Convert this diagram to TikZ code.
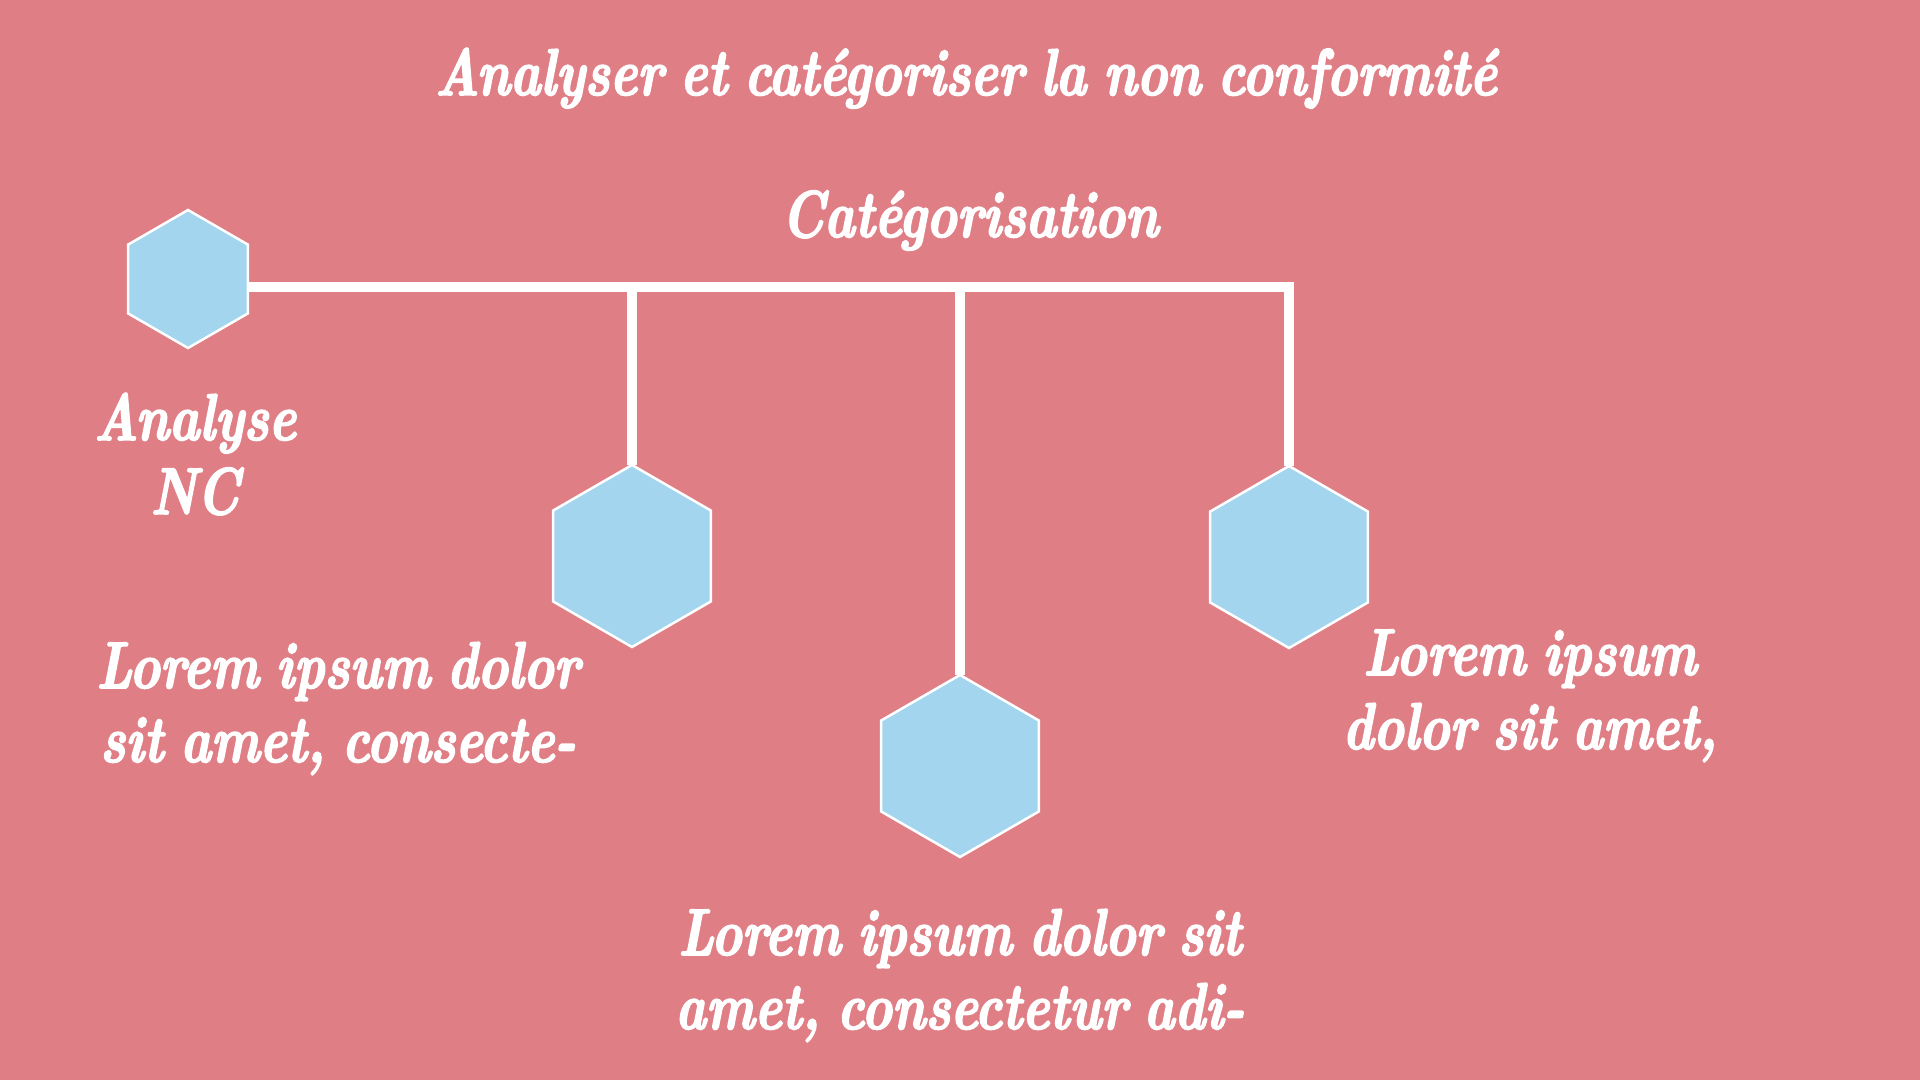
\documentclass[tikz,border=0pt]{standalone}
\usepackage{fontspec}
\usetikzlibrary{shapes.geometric}
\newfontfamily\scrfont{lmroman10-bolditalic.otf}[FakeStretch=0.78,WordSpace=0.8,FakeBold=2.5]
\definecolor{bgpink}{HTML}{E07E86}
\definecolor{hexblue}{HTML}{A3D5EF}
\tikzset{
  hexnode/.style={regular polygon, regular polygon sides=6, shape border rotate=30,
    draw=white, line width=2.5pt, fill=hexblue, inner sep=0pt, outer sep=0pt, minimum size=#1},
  link/.style={draw=white, line width=9.5pt},
  lbl/.style={text=white, align=center, anchor=base, inner sep=0pt,
    font=\scrfont\fontsize{66}{74}\selectfont},
}
\begin{document}
\begin{tikzpicture}[x=1pt,y=-1pt]
\fill[bgpink] (0,0) rectangle (1920,1080);
\useasboundingbox (0,0) rectangle (1920,1080);

\node[hexnode=138pt] (h1) at (188,279) {};
\node[hexnode=182pt] (h2) at (632,556) {};
\node[hexnode=182pt] (h3) at (960,766) {};
\node[hexnode=182pt] (h4) at (1289,557) {};

\coordinate (j1) at (632,287);
\coordinate (j2) at (960,287);
\coordinate (j3) at (1289,287);

\draw[link] ([yshift=-8pt]h1.east) -- (j3) -- (h4.north);
\draw[link] (j1) -- (h2.north);
\draw[link] (j2) -- (h3.north);

\node[lbl] (title) at (966,95) {Analyser et catégoriser la non conformité};
\node[lbl] (cat) at (970,237) {Catégorisation};
\node[lbl] (t1) at (195,514) {Analyse\\NC};
\node[lbl] (t2) at (338,762) {Lorem ipsum dolor\\sit amet, consecte-};
\node[lbl] (t3) at (960,1029) {Lorem ipsum dolor sit\\amet, consectetur adi-};
\node[lbl] (t4) at (1530,749) {Lorem ipsum\\dolor sit amet,};
\end{tikzpicture}
\end{document}
